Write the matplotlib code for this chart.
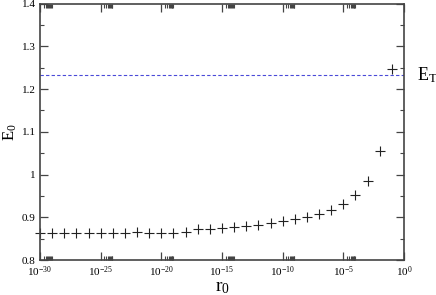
import numpy as np
import matplotlib
matplotlib.use("Agg")
import matplotlib.pyplot as plt
from matplotlib.ticker import FixedLocator, FuncFormatter, MultipleLocator

# data
r0_exp = list(range(-30, 0))  # r0 = 10**exp
E0 = [0.863, 0.863, 0.863, 0.863, 0.863, 0.864, 0.864, 0.864,
      0.8657, 0.8634, 0.8643, 0.8643, 0.8657, 0.8721, 0.8721, 0.876,
      0.878, 0.880, 0.882, 0.886, 0.891, 0.895, 0.900, 0.907,
      0.917, 0.932, 0.953, 0.9855, 1.054, 1.248]
E_T = 1.232
xtick_exp = [-30, -25, -20, -15, -10, -5, 0]
ytick_vals = [0.8, 0.9, 1.0, 1.1, 1.2, 1.3, 1.4]

plt.rcParams['font.family'] = ['Liberation Serif', 'DejaVu Serif']
plt.rcParams['mathtext.fontset'] = 'custom'
plt.rcParams['mathtext.rm'] = 'Liberation Serif'
plt.rcParams['mathtext.it'] = 'Liberation Serif:italic'

fig = plt.figure(figsize=(4.36, 2.95), dpi=100)
ax = fig.add_axes([0.0917, 0.1186, 0.8349, 0.8694])

r0 = [10.0 ** e for e in r0_exp]
ax.plot(r0, E0, linestyle='none', marker='+', markersize=7, markeredgewidth=0.8,
        color='#222222', clip_on=False)
ax.axhline(E_T, color='#4a4ad8', linestyle=(0, (3, 2)), linewidth=0.8)

ax.set_xscale('log')
ax.set_xlim(1e-30, 1e0)
ax.set_ylim(0.8, 1.4)

majors = [10.0 ** e for e in xtick_exp]
ax.xaxis.set_major_locator(FixedLocator(majors))
minors = [m * s for m in majors[:-1] for s in range(2, 10)]
ax.xaxis.set_minor_locator(FixedLocator(minors))
ax.xaxis.set_major_formatter(FuncFormatter(lambda v, p: r'$10^{%d}$' % int(round(np.log10(v)))))
ax.xaxis.set_minor_formatter(FuncFormatter(lambda v, p: ''))

ax.yaxis.set_major_locator(FixedLocator(ytick_vals))
ax.yaxis.set_minor_locator(MultipleLocator(0.05))
ax.yaxis.set_major_formatter(FuncFormatter(lambda v, p: '%g' % round(v, 2)))

for sp in ax.spines.values():
    sp.set_linewidth(1.2)
    sp.set_color('#444444')

ax.tick_params(which='both', direction='in', top=True, right=True, color='#444444',
               labelsize=8, pad=3)
ax.tick_params(which='major', length=6, width=0.9)
ax.tick_params(which='minor', length=3, width=0.8)

ax.set_xlabel(r'r$_0$', fontsize=14, labelpad=0)
ax.set_ylabel(r'E$_0$', fontsize=12, labelpad=2)

ax.text(1.035, E_T, r'E$_\mathregular{T}$', transform=ax.get_yaxis_transform(),
        fontsize=13, va='center', ha='left')

fig.savefig('out.png', dpi=100)
